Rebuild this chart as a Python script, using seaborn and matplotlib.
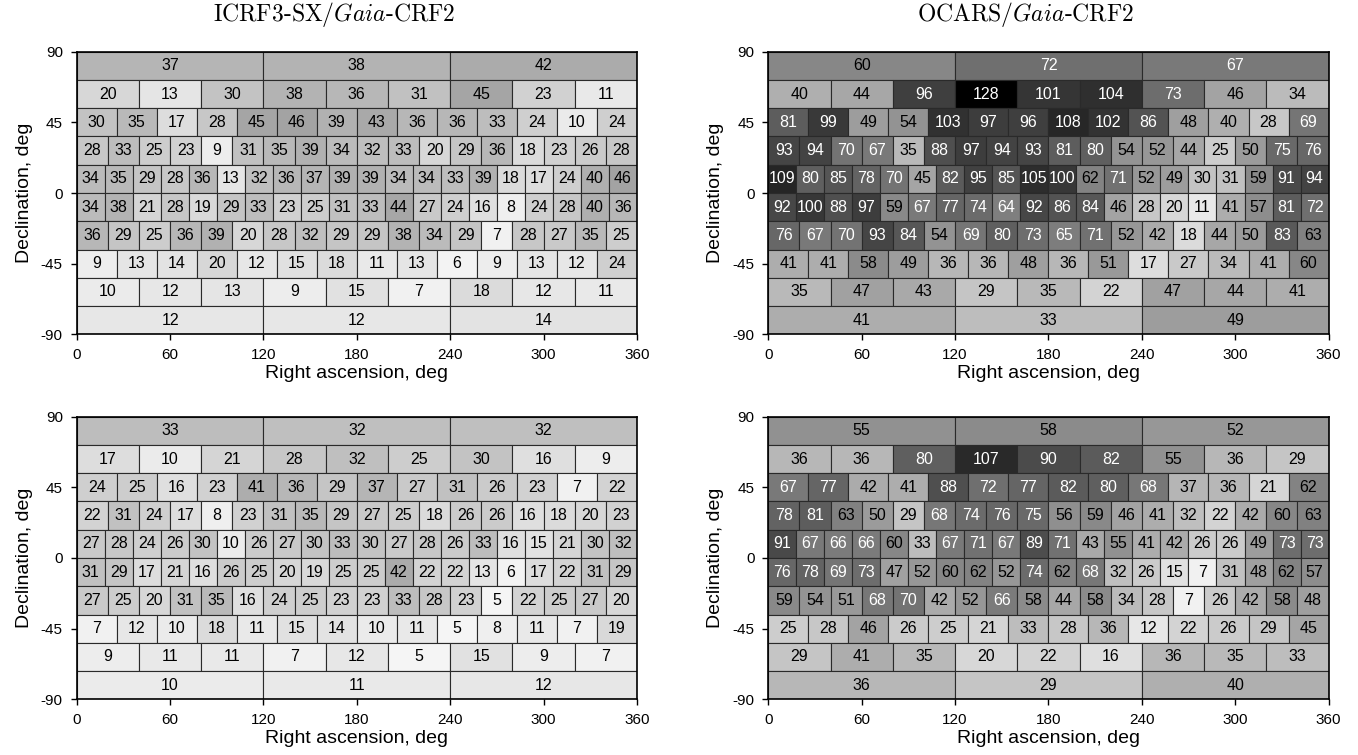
import numpy as np
import matplotlib.pyplot as plt
import seaborn as sns

# sources per cell, one list per 18-deg declination band,
# from the north cap (72..90) down to the south cap (-90..-72)
icrf3_top = [
    [37, 38, 42],
    [20, 13, 30, 38, 36, 31, 45, 23, 11],
    [30, 35, 17, 28, 45, 46, 39, 43, 36, 36, 33, 24, 10, 24],
    [28, 33, 25, 23, 9, 31, 35, 39, 34, 32, 33, 20, 29, 36, 18, 23, 26, 28],
    [34, 35, 29, 28, 36, 13, 32, 36, 37, 39, 39, 34, 34, 33, 39, 18, 17, 24, 40, 46],
    [34, 38, 21, 28, 19, 29, 33, 23, 25, 31, 33, 44, 27, 24, 16, 8, 24, 28, 40, 36],
    [36, 29, 25, 36, 39, 20, 28, 32, 29, 29, 38, 34, 29, 7, 28, 27, 35, 25],
    [9, 13, 14, 20, 12, 15, 18, 11, 13, 6, 9, 13, 12, 24],
    [10, 12, 13, 9, 15, 7, 18, 12, 11],
    [12, 12, 14],
]

ocars_top = [
    [60, 72, 67],
    [40, 44, 96, 128, 101, 104, 73, 46, 34],
    [81, 99, 49, 54, 103, 97, 96, 108, 102, 86, 48, 40, 28, 69],
    [93, 94, 70, 67, 35, 88, 97, 94, 93, 81, 80, 54, 52, 44, 25, 50, 75, 76],
    [109, 80, 85, 78, 70, 45, 82, 95, 85, 105, 100, 62, 71, 52, 49, 30, 31, 59, 91, 94],
    [92, 100, 88, 97, 59, 67, 77, 74, 64, 92, 86, 84, 46, 28, 20, 11, 41, 57, 81, 72],
    [76, 67, 70, 93, 84, 54, 69, 80, 73, 65, 71, 52, 42, 18, 44, 50, 83, 63],
    [41, 41, 58, 49, 36, 36, 48, 36, 51, 17, 27, 34, 41, 60],
    [35, 47, 43, 29, 35, 22, 47, 44, 41],
    [41, 33, 49],
]

icrf3_bottom = [
    [33, 32, 32],
    [17, 10, 21, 28, 32, 25, 30, 16, 9],
    [24, 25, 16, 23, 41, 36, 29, 37, 27, 31, 26, 23, 7, 22],
    [22, 31, 24, 17, 8, 23, 31, 35, 29, 27, 25, 18, 26, 26, 16, 18, 20, 23],
    [27, 28, 24, 26, 30, 10, 26, 27, 30, 33, 30, 27, 28, 26, 33, 16, 15, 21, 30, 32],
    [31, 29, 17, 21, 16, 26, 25, 20, 19, 25, 25, 42, 22, 22, 13, 6, 17, 22, 31, 29],
    [27, 25, 20, 31, 35, 16, 24, 25, 23, 23, 33, 28, 23, 5, 22, 25, 27, 20],
    [7, 12, 10, 18, 11, 15, 14, 10, 11, 5, 8, 11, 7, 19],
    [9, 11, 11, 7, 12, 5, 15, 9, 7],
    [10, 11, 12],
]

ocars_bottom = [
    [55, 58, 52],
    [36, 36, 80, 107, 90, 82, 55, 36, 29],
    [67, 77, 42, 41, 88, 72, 77, 82, 80, 68, 37, 36, 21, 62],
    [78, 81, 63, 50, 29, 68, 74, 76, 75, 56, 59, 46, 41, 32, 22, 42, 60, 63],
    [91, 67, 66, 66, 60, 33, 67, 71, 67, 89, 71, 43, 55, 41, 42, 26, 26, 49, 73, 73],
    [76, 78, 69, 73, 47, 52, 60, 62, 52, 74, 62, 68, 32, 26, 15, 7, 31, 48, 62, 57],
    [59, 54, 51, 68, 70, 42, 52, 66, 58, 44, 58, 34, 28, 7, 26, 42, 58, 48],
    [25, 28, 46, 26, 25, 21, 33, 28, 36, 12, 22, 26, 29, 45],
    [29, 41, 35, 20, 22, 16, 36, 35, 33],
    [36, 29, 40],
]

titles = [r"ICRF3-SX/$Gaia$-CRF2", r"OCARS/$Gaia$-CRF2"]
xticks = [0, 60, 120, 180, 240, 300, 360]
yticks = [-90, -45, 0, 45, 90]

sns.set_style("ticks")
plt.rcParams["font.family"] = ["Liberation Sans", "DejaVu Sans"]
plt.rcParams["mathtext.fontset"] = "cm"
plt.rcParams["axes.unicode_minus"] = False
for key in ["text.color", "axes.labelcolor", "xtick.color", "ytick.color", "axes.edgecolor"]:
    plt.rcParams[key] = "black"

cmap = sns.color_palette("gray_r", as_cmap=True)
norm = plt.Normalize(0, 128)
dec_edges = np.linspace(90, -90, 11)


def draw_panel(ax, counts, title=None):
    for i, row in enumerate(counts):
        n = len(row)
        width = 360 / n
        left = np.arange(n) * width
        lo = dec_edges[i + 1]
        h = dec_edges[i] - lo
        ax.bar(left, h, width=width, bottom=lo, align="edge",
               color=cmap(norm(row)), edgecolor="#2a2a2a", linewidth=0.8)
        for x, v in zip(left + width / 2, row):
            ax.text(x, lo + h / 2, str(v), ha="center", va="center",
                    fontsize=11.5, color="white" if v >= 64 else "black")
    ax.set_xlim(0, 360)
    ax.set_ylim(-90, 90)
    ax.set_xticks(xticks)
    ax.set_yticks(yticks)
    ax.tick_params(labelsize=11, length=4, width=1, pad=6)
    ax.set_xlabel("Right ascension, deg", fontsize=14, labelpad=2)
    ax.set_ylabel("Declination, deg", fontsize=14, labelpad=6)
    for sp in ax.spines.values():
        sp.set_visible(True)
        sp.set_linewidth(1.2)
    if title:
        ax.set_title(title, fontfamily="cmr10", fontsize=17, pad=22, x=0.46)


fig = plt.figure(figsize=(13.58, 7.55), dpi=100)
w, h = 0.4125, 0.3743
ax1 = fig.add_axes([0.0565, 0.5572, w, h])
ax2 = fig.add_axes([0.5658, 0.5572, w, h])
ax3 = fig.add_axes([0.0565, 0.0738, w, h])
ax4 = fig.add_axes([0.5658, 0.0738, w, h])

draw_panel(ax1, icrf3_top, titles[0])
draw_panel(ax2, ocars_top, titles[1])
draw_panel(ax3, icrf3_bottom)
draw_panel(ax4, ocars_bottom)

fig.savefig("out.png", dpi=100)
